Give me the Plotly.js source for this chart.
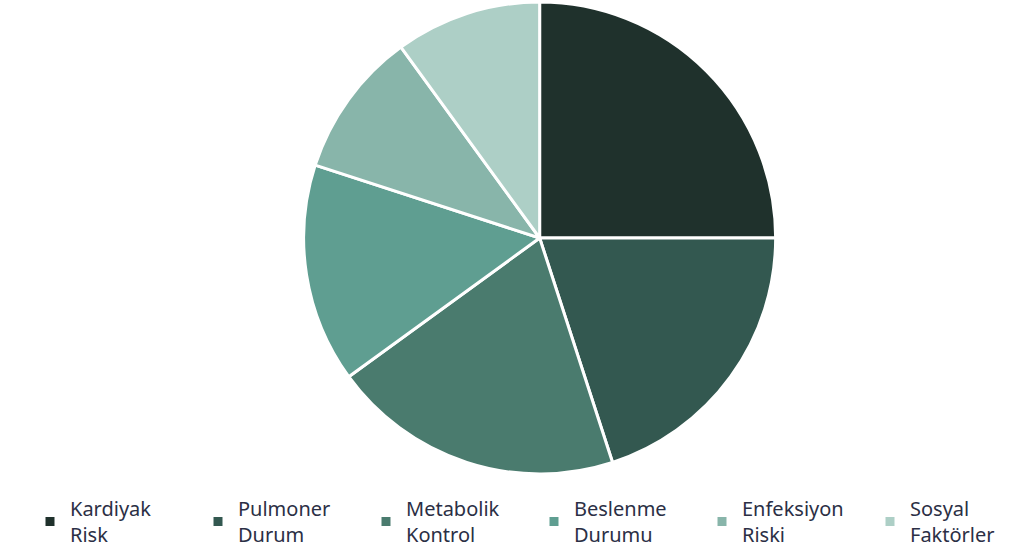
<!DOCTYPE html>
<html>
<head>
<meta charset="utf-8">
<script src="https://cdn.plot.ly/plotly-3.0.1.min.js"></script>
<style>html,body{margin:0;padding:0;background:#fff;}#chart{width:1024px;height:553px;}</style>
</head>
<body>
<div id="chart"></div>
<script>
const labels = ["Kardiyak<br>Risk", "Pulmoner<br>Durum", "Metabolik<br>Kontrol", "Beslenme<br>Durumu", "Enfeksiyon<br>Riski", "Sosyal<br>Faktörler"];
const values = [25, 20, 20, 15, 10, 10];
const colors = ["#1f312c", "#335850", "#4a7b6e", "#5f9e91", "#88b5aa", "#adcfc6"];

const data = [{
  type: "pie",
  labels: labels,
  values: values,
  sort: false,
  direction: "clockwise",
  rotation: 0,
  textinfo: "none",
  hoverinfo: "label+percent",
  marker: {colors: colors, line: {color: "#ffffff", width: 3}},
  domain: {x: [0.054, 1], y: [0, 1]}
}];

const layout = {
  width: 1024, height: 553,
  margin: {l: 0, r: 0, t: 2, b: 79, autoexpand: false},
  paper_bgcolor: "#ffffff",
  showlegend: true,
  font: {family: "Noto Sans, Open Sans, sans-serif", size: 20, color: "#2b2f45"},
  legend: {
    orientation: "h",
    x: 0.0293, xanchor: "left",
    y: -0.032, yanchor: "top",
    entrywidth: 123, entrywidthmode: "pixels",
    traceorder: "normal",
    font: {size: 20, color: "#2b2f45"}
  }
};

Plotly.newPlot("chart", data, layout, {displayModeBar: false});
</script>
</body>
</html>
